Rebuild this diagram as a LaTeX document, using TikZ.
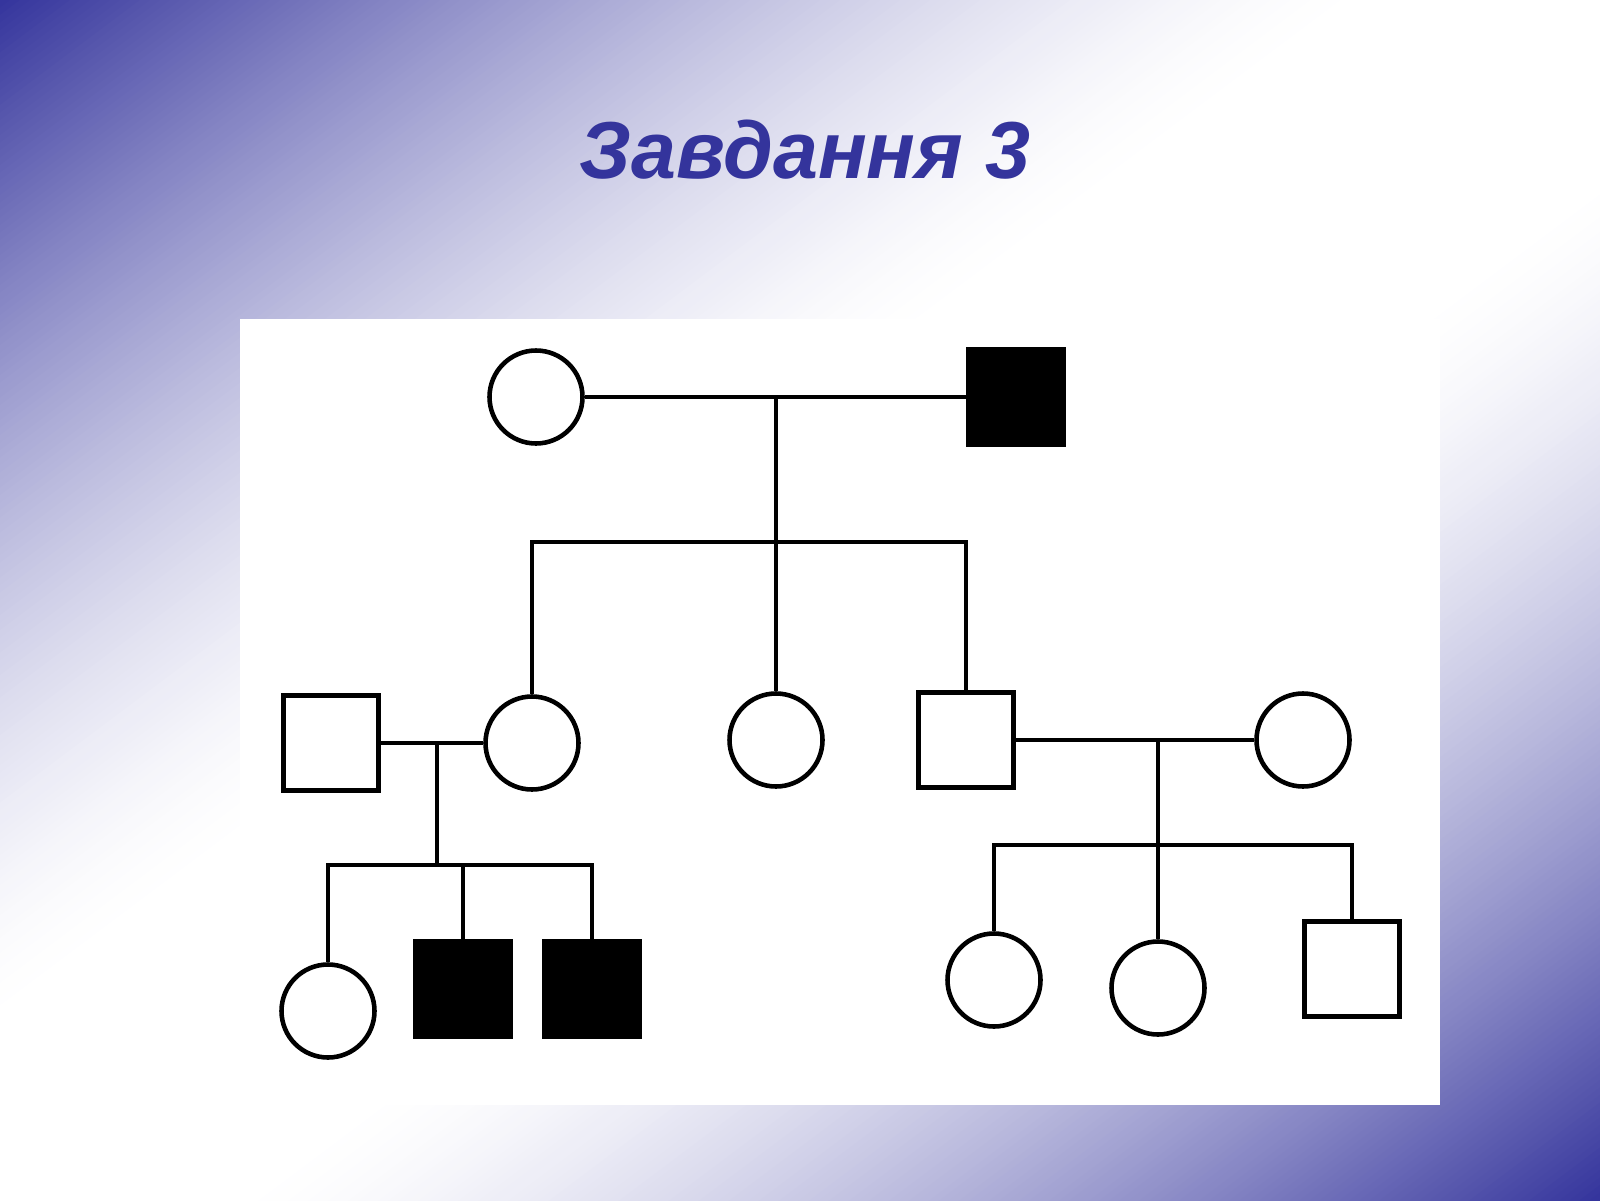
\documentclass[tikz,border=0pt]{standalone}
\usepackage{fontspec}
\newfontfamily\titlefont{Liberation Sans}
\usetikzlibrary{positioning}
\definecolor{slideblue}{RGB}{52,52,156}
\tikzset{
    every node/.style={inner sep=0pt},
    female/.style={circle, draw, fill=white, minimum size=0.93cm},
    male/.style={rectangle, draw, fill=white, minimum size=0.95cm},
    affected/.style={fill=black},
}

\begin{document}
\begin{tikzpicture}[line width=1.3pt]

\useasboundingbox (0,0) rectangle (16,12);
% slide background
\begin{scope}
\clip (0,0) rectangle (16,12);
\foreach \k in {0,...,319} {
    \pgfmathsetmacro\ta{\k/160}
    \pgfmathsetmacro\tb{(\k+1.6)/160}
    \pgfmathsetmacro\u{min(\ta+0.003, 1.997-\ta)}
    \pgfmathsetmacro\v{max(0,1-\u/0.85)}
    \pgfmathsetmacro\f{100*\v*sqrt(\v)}
    \fill[slideblue!\f!white] (16*\ta-24,-6) -- (16*\ta+24,30) -- (16*\tb+24,30) -- (16*\tb-24,-6) -- cycle;
}
\end{scope}
\fill[white] (2.40,0.95) rectangle (14.40,8.81);

\node (title) at (8.05,10.21) [anchor=base, text=slideblue] {\titlefont\bfseries\itshape\fontsize{23}{27}\selectfont Завдання 3};

% generation I
\node[female] (i1) at (5.36,8.03) {};
\node[male, affected] (i2) at (10.16,8.03) {};
\coordinate (m1) at (7.76,8.03);
\coordinate (s1) at (7.76,6.58);

% generation II
\node[male] (h) at (3.31,4.57) {};
\node[female] (ii1) at (5.32,4.57) {};
\node[female] (ii2) at (7.76,4.60) {};
\node[male] (ii3) at (9.66,4.60) {};
\node[female] (w) at (13.03,4.60) {};
\coordinate (m2) at (4.37,4.57);
\coordinate (s2) at (4.37,3.35);
\coordinate (m3) at (11.58,4.60);
\coordinate (s3) at (11.58,3.55);

% generation III
\node[female] (c1) at (3.28,1.89) {};
\node[male, affected] (c2) at (4.63,2.11) {};
\node[male, affected] (c3) at (5.92,2.11) {};
\node[female] (d1) at (9.94,2.20) {};
\node[female] (d2) at (11.58,2.12) {};
\node[male] (d3) at (13.52,2.31) {};

\draw (i1) -- (i2);
\draw (m1) -- (ii2);
\draw (ii1) |- (s1) -| (ii3);

\draw (h) -- (ii1);
\draw (m2) -- (s2);
\draw (c1) |- (s2) -| (c3);
\draw (s2 -| c2) -- (c2);

\draw (ii3) -- (w);
\draw (m3) -- (d2);
\draw (d1) |- (s3) -| (d3);

\end{tikzpicture}
\end{document}
